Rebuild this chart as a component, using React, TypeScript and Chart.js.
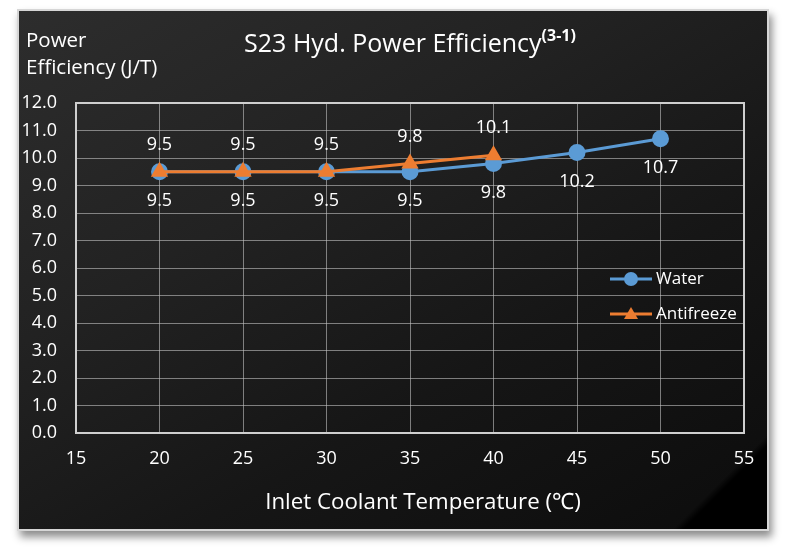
import React, { useEffect, useRef } from "react";
import { Chart, registerables } from "chart.js";

Chart.register(...registerables);

const waterX = [20, 25, 30, 35, 40, 45, 50];
const waterY = [9.5, 9.5, 9.5, 9.5, 9.8, 10.2, 10.7];
const antifreezeX = [20, 25, 30, 35, 40];
const antifreezeY = [9.5, 9.5, 9.5, 9.8, 10.1];
const seriesNames = ["Water", "Antifreeze"];
const xTicks = { min: 15, max: 55, step: 5 };
const yTicks = { min: 0, max: 12, step: 1 };

const FONT = "'Open Sans', 'Noto Sans', sans-serif";
const BLUE = "#5B9BD5";
const ORANGE = "#ED7D31";

const labelPlugin = {
  id: "valueLabels",
  afterDatasetsDraw(chart: any) {
    const ctx = chart.ctx;
    ctx.save();
    ctx.font = `18px ${FONT}`;
    ctx.fillStyle = "#ffffff";
    ctx.textAlign = "center";
    ctx.textBaseline = "middle";
    chart.data.datasets.forEach((ds: any, di: number) => {
      const meta = chart.getDatasetMeta(di);
      const dy = ds.label === "Water" ? 29 : -27;
      meta.data.forEach((el: any, i: number) => {
        const v = ds.data[i].y;
        ctx.fillText(v.toFixed(1), el.x, el.y + dy);
      });
    });
    ctx.restore();
  },
};

const framePlugin = {
  id: "frameAndLegend",
  afterDraw(chart: any) {
    const { ctx, chartArea } = chart;
    ctx.save();
    ctx.strokeStyle = "#cfcfcf";
    ctx.lineWidth = 2;
    ctx.strokeRect(chartArea.left, chartArea.top, chartArea.right - chartArea.left, chartArea.bottom - chartArea.top);
    const items = [
      { label: seriesNames[0], color: BLUE, style: "circle", y: chartArea.top + 176 },
      { label: seriesNames[1], color: ORANGE, style: "triangle", y: chartArea.top + 211 },
    ];
    const x0 = chartArea.right - 134;
    items.forEach((it) => {
      ctx.strokeStyle = it.color;
      ctx.lineWidth = 3;
      ctx.beginPath();
      ctx.moveTo(x0, it.y);
      ctx.lineTo(x0 + 42, it.y);
      ctx.stroke();
      ctx.fillStyle = it.color;
      ctx.beginPath();
      const cx = x0 + 21;
      if (it.style === "circle") {
        ctx.arc(cx, it.y, 7, 0, Math.PI * 2);
      } else {
        ctx.moveTo(cx, it.y - 7);
        ctx.lineTo(cx + 7, it.y + 5);
        ctx.lineTo(cx - 7, it.y + 5);
        ctx.closePath();
      }
      ctx.fill();
      ctx.fillStyle = "#ffffff";
      ctx.font = `17px ${FONT}`;
      ctx.textAlign = "left";
      ctx.textBaseline = "middle";
      ctx.fillText(it.label, x0 + 46, it.y);
    });
    ctx.restore();
  },
};

export default function App() {
  const ref = useRef<HTMLCanvasElement | null>(null);

  useEffect(() => {
    if (!ref.current) return;
    const chart = new Chart(ref.current, {
      type: "line",
      data: {
        datasets: [
          {
            label: seriesNames[0],
            data: waterX.map((x, i) => ({ x, y: waterY[i] })),
            borderColor: BLUE,
            backgroundColor: BLUE,
            pointBackgroundColor: BLUE,
            pointBorderColor: BLUE,
            pointStyle: "circle",
            pointRadius: 7,
            borderWidth: 3,
            order: 2,
          },
          {
            label: seriesNames[1],
            data: antifreezeX.map((x, i) => ({ x, y: antifreezeY[i] })),
            borderColor: ORANGE,
            backgroundColor: ORANGE,
            pointBackgroundColor: ORANGE,
            pointBorderColor: ORANGE,
            pointStyle: "triangle",
            pointRadius: 7,
            borderWidth: 3,
            order: 1,
          },
        ],
      },
      options: {
        responsive: false,
        animation: false,
        layout: { padding: { left: 0, right: 42, top: 103, bottom: 0 } },
        plugins: { legend: { display: false }, tooltip: { enabled: false }, title: { display: false } },
        scales: {
          x: {
            type: "linear",
            min: xTicks.min,
            max: xTicks.max,
            ticks: { stepSize: xTicks.step, color: "#ffffff", font: { family: FONT, size: 18 }, padding: 15 },
            grid: { color: "rgba(195,195,195,0.6)", lineWidth: 1, drawTicks: false },
            border: { display: false },
            afterFit: (s: any) => { s.height = 123; },
          },
          y: {
            min: yTicks.min,
            max: yTicks.max,
            ticks: {
              stepSize: yTicks.step,
              color: "#ffffff",
              font: { family: FONT, size: 18 },
              padding: 19,
              callback: (v: any) => Number(v).toFixed(1),
            },
            grid: { color: "rgba(195,195,195,0.6)", lineWidth: 1, drawTicks: false },
            border: { display: false },
            afterFit: (s: any) => { s.width = 76; },
          },
        },
      },
      plugins: [labelPlugin, framePlugin],
    });
    return () => chart.destroy();
  }, []);

  return (
    <div style={{ position: "fixed", left: 0, top: 0, width: 786, height: 556, background: "#ffffff", overflow: "hidden", fontFamily: FONT }}>
      <div
        style={{
          position: "absolute",
          left: 17,
          top: 9,
          width: 752,
          height: 522,
          boxSizing: "border-box",
          border: "2px solid #d6d6d6",
          boxShadow: "3px 6px 8px rgba(0,0,0,0.45)",
          background:
            "linear-gradient(135deg, rgba(0,0,0,0) 0%, rgba(0,0,0,0) 92.6%, #000 93.4%, #000 100%), linear-gradient(150deg, #2d2d2d 0%, #222 35%, #161616 65%, #0c0c0c 100%)",
        }}
      />
      <canvas ref={ref} width={786} height={556} style={{ position: "absolute", left: 0, top: 0, width: 786, height: 556 }} />
      <div style={{ position: "absolute", left: 26, top: 26, color: "#fff", fontSize: 20.5, lineHeight: "27px", whiteSpace: "nowrap" }}>
        Power
        <br />
        Efficiency (J/T)
      </div>
      <div style={{ position: "absolute", left: 76, width: 668, top: 25, textAlign: "center", color: "#fff", fontSize: 25, lineHeight: "34px", whiteSpace: "nowrap" }}>
        S23 Hyd. Power Efficiency
        <sup style={{ fontSize: 16, fontWeight: 700, verticalAlign: "top", position: "relative", top: 0, lineHeight: "20px" }}>(3-1)</sup>
      </div>
      <div style={{ position: "absolute", left: 123, width: 600, top: 485, textAlign: "center", color: "#fff", fontSize: 22.3, lineHeight: "31px", whiteSpace: "nowrap" }}>
        Inlet Coolant Temperature (℃)
      </div>
    </div>
  );
}
